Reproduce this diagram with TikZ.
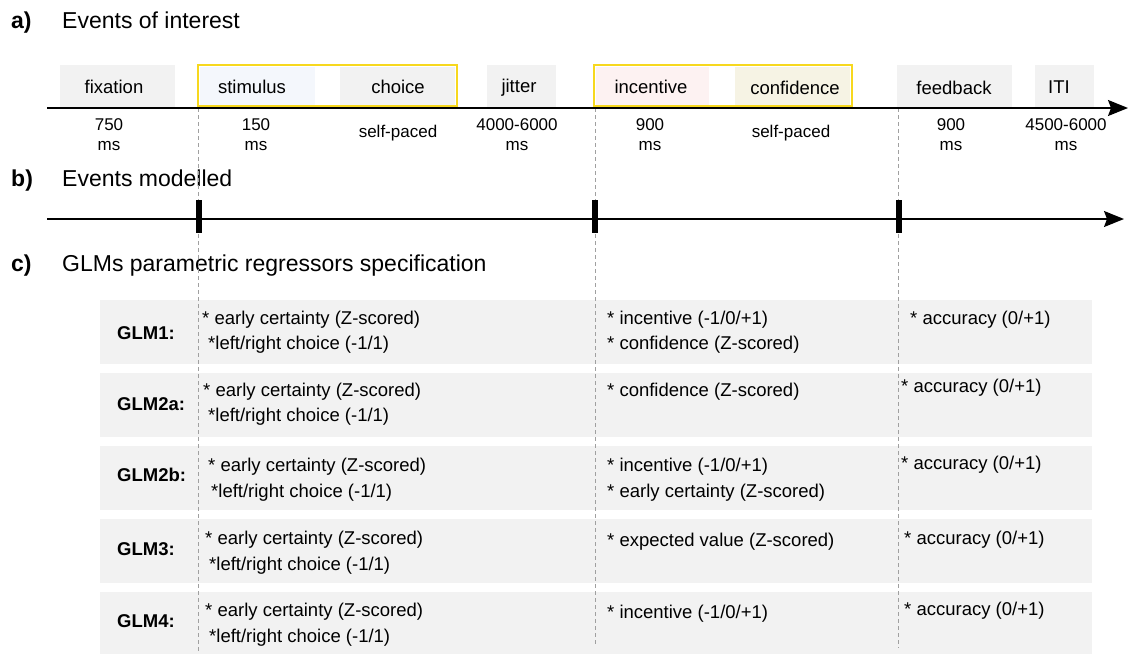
\documentclass[tikz,border=0pt]{standalone}
\usepackage{fontspec}
\setmainfont{Liberation Sans}
\usetikzlibrary{arrows.meta}

\definecolor{boxgray}{HTML}{F2F2F2}
\definecolor{frameyellow}{RGB}{247,216,30}
\definecolor{stimblue}{HTML}{F4F7FC}
\definecolor{incpink}{HTML}{FDF2F2}
\definecolor{confbeige}{HTML}{F6F3E4}
\definecolor{dashgray}{HTML}{A0A0A0}

\tikzset{
    sechead/.style={font=\fontsize{23}{27}\selectfont, inner sep=0pt, anchor=west, text height=16.5pt, text depth=0pt},
    evtext/.style={font=\fontsize{18.5}{22}\selectfont, inner sep=0pt, text height=13.3pt, text depth=0pt},
    durtext/.style={font=\fontsize{17}{20}\selectfont, inner sep=0pt, align=center},
    regtext/.style={font=\fontsize{18.5}{22}\selectfont, inner sep=0pt, anchor=west, text height=13.3pt, text depth=0pt},
    glmname/.style={regtext, font=\fontsize{18.5}{22}\selectfont\bfseries},
    guideline/.style={draw=dashgray, line width=0.9pt, dash pattern=on 4pt off 3pt},
    timeline/.style={line width=1.6pt, -{Stealth[length=20pt,width=16pt,inset=3pt]}},
    evtick/.style={line width=6pt},
    evframe/.style={draw=frameyellow, line width=2.6pt},
}

\begin{document}
\begin{tikzpicture}[x=1pt,y=-1pt]
        \useasboundingbox (0,0) rectangle (1129,654);

        % headings
        \node[sechead, font=\fontsize{23}{27}\selectfont\bfseries] (la) at (11,20) {a)};
        \node[sechead] (ha) at (62,20) {Events of interest};
        \node[sechead, font=\fontsize{23}{27}\selectfont\bfseries] (lb) at (11,178) {b)};
        \node[sechead] (hb) at (62,178) {Events modelled};
        \node[sechead, font=\fontsize{23}{27}\selectfont\bfseries] (lc) at (11,263) {c)};
        \node[sechead] (hc) at (62,263) {GLMs parametric regressors specification};

        % GLM rows
        \fill[boxgray] (100,300) rectangle (1092,364);
        \fill[boxgray] (100,373) rectangle (1092,437);
        \fill[boxgray] (100,446) rectangle (1092,510);
        \fill[boxgray] (100,519) rectangle (1092,583);
        \fill[boxgray] (100,592) rectangle (1092,654);

        % event boxes
        \fill[boxgray] (60,65) rectangle (175,108);
        \fill[stimblue] (200,67) rectangle (315,106);
        \fill[boxgray] (340,67) rectangle (455,106);
        \fill[boxgray] (487,65) rectangle (556,108);
        \fill[incpink] (596,67) rectangle (709,106);
        \fill[confbeige] (735,67) rectangle (850,106);
        \fill[boxgray] (897,65) rectangle (1012,108);
        \fill[boxgray] (1035,65) rectangle (1094,108);
        \draw[evframe] (198,65) rectangle (457,106);
        \draw[evframe] (594,65) rectangle (852,106);

        \node[evtext] (fix) at (114,87) {fixation};
        \node[evtext] (stim) at (252,87) {stimulus};
        \node[evtext] (cho) at (398,87) {choice};
        \node[evtext] (jit) at (519,86) {jitter};
        \node[evtext] (inc) at (651,87) {incentive};
        \node[evtext] (conf) at (795,88) {confidence};
        \node[evtext] (fb) at (954,88) {feedback};
        \node[evtext] (iti) at (1059,87) {ITI};

        % durations
        \node[durtext] (d1) at (109,135) {750\\ms};
        \node[durtext] (d2) at (256,135) {150\\ms};
        \node[durtext] (d3) at (398,133) {self-paced};
        \node[durtext] (d4) at (517,135) {4000-6000\\ms};
        \node[durtext] (d5) at (650,135) {900\\ms};
        \node[durtext] (d6) at (791,133) {self-paced};
        \node[durtext] (d7) at (951,135) {900\\ms};
        \node[durtext] (d8) at (1066,135) {4500-6000\\ms};

        % guides
        \coordinate (g1) at (198,108);
        \coordinate (g2) at (595,108);
        \coordinate (g3) at (898,108);
        \draw[guideline] (g1) -- (198,653);
        \draw[guideline] (g2) -- (595,646);
        \draw[guideline] (g3) -- (898,648);

        % timelines
        \coordinate (A0) at (47,108);
        \coordinate (A1) at (1128,108);
        \coordinate (B0) at (47,219);
        \coordinate (B1) at (1124,219);
        \draw[timeline] (A0) -- (A1);
        \draw[timeline] (B0) -- (B1);
        \draw[evtick] (198.5,200) -- (198.5,233);
        \draw[evtick] (595,200) -- (595,233);
        \draw[evtick] (898.5,200) -- (898.5,233);

        % GLM1
        \node[glmname] (m1) at (117,333) {GLM1:};
        \node[regtext] (m1a) at (202,318) {* early certainty (Z-scored)};
        \node[regtext] (m1b) at (208,343) {*left/right choice (-1/1)};
        \node[regtext] (m1c) at (607,318) {* incentive (-1/0/+1)};
        \node[regtext] (m1d) at (607,343) {* confidence (Z-scored)};
        \node[regtext] (m1e) at (910,318) {* accuracy (0/+1)};
        % GLM2a
        \node[glmname] (m2) at (117,404) {GLM2a:};
        \node[regtext] (m2a) at (203,390) {* early certainty (Z-scored)};
        \node[regtext] (m2b) at (208,415) {*left/right choice (-1/1)};
        \node[regtext] (m2c) at (607,390) {* confidence (Z-scored)};
        \node[regtext] (m2e) at (901,386) {* accuracy (0/+1)};
        % GLM2b
        \node[glmname] (m3) at (117,475) {GLM2b:};
        \node[regtext] (m3a) at (208,465) {* early certainty (Z-scored)};
        \node[regtext] (m3b) at (211,491) {*left/right choice (-1/1)};
        \node[regtext] (m3c) at (607,465) {* incentive (-1/0/+1)};
        \node[regtext] (m3d) at (607,491) {* early certainty (Z-scored)};
        \node[regtext] (m3e) at (901,463) {* accuracy (0/+1)};
        % GLM3
        \node[glmname] (m4) at (117,549) {GLM3:};
        \node[regtext] (m4a) at (205,538) {* early certainty (Z-scored)};
        \node[regtext] (m4b) at (209,564) {*left/right choice (-1/1)};
        \node[regtext] (m4c) at (607,540) {* expected value (Z-scored)};
        \node[regtext] (m4e) at (904,538) {* accuracy (0/+1)};
        % GLM4
        \node[glmname] (m5) at (117,621) {GLM4:};
        \node[regtext] (m5a) at (205,610) {* early certainty (Z-scored)};
        \node[regtext] (m5b) at (209,636) {*left/right choice (-1/1)};
        \node[regtext] (m5c) at (607,612) {* incentive (-1/0/+1)};
        \node[regtext] (m5e) at (904,609) {* accuracy (0/+1)};
    \end{tikzpicture}
\end{document}
